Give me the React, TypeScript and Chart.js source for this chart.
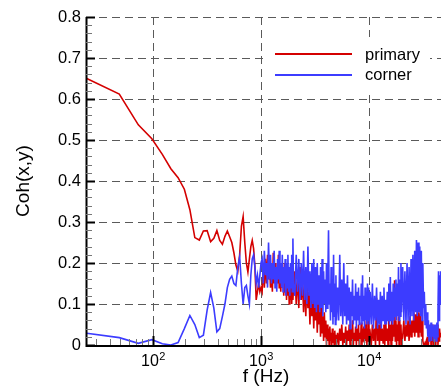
import React, { useEffect, useRef } from "react";
import { Chart, registerables } from "chart.js";

Chart.register(...registerables);

// ---- data (frequency in Hz, coherence) ----
const freqA = [24.4, 48.8, 73.2, 97.7, 122.1, 146.5, 170.9, 195.3, 219.7, 244.1, 268.6, 293, 317.4, 341.8, 366.2, 390.6, 415, 439.5, 463.9, 488.3, 512.7, 537.1, 561.5, 586, 610.4, 634.8, 659.2, 683.6, 708, 732.4, 756.8, 781.3, 805.7, 830, 854.5, 879, 903.3, 927.7, 952, 976.6, 1001];
const primaryA = [0.65, 0.612, 0.537, 0.503, 0.465, 0.43, 0.408, 0.38, 0.33, 0.262, 0.256, 0.278, 0.279, 0.252, 0.26, 0.279, 0.255, 0.246, 0.265, 0.278, 0.264, 0.25, 0.225, 0.195, 0.18, 0.22, 0.29, 0.313, 0.25, 0.2, 0.178, 0.21, 0.24, 0.255, 0.235, 0.19, 0.11, 0.13, 0.15, 0.13, 0.14];
const cornerA = [0.0285, 0.018, 0.004, 0.013, 0.003, 0.0, 0.006, 0.04, 0.072, 0.05, 0.018, 0.024, 0.085, 0.128, 0.09, 0.032, 0.04, 0.07, 0.1, 0.14, 0.16, 0.168, 0.15, 0.145, 0.19, 0.215, 0.15, 0.1, 0.14, 0.145, 0.12, 0.1, 0.17, 0.21, 0.22, 0.19, 0.15, 0.17, 0.14, 0.17, 0.2];

const freqB = [1025, 1050, 1075, 1100, 1125, 1150, 1175, 1200, 1225, 1250, 1275, 1300, 1325, 1350, 1375, 1400, 1425, 1450, 1475, 1500, 1525, 1550, 1575, 1600, 1625, 1650, 1675, 1700, 1725, 1750, 1775, 1800, 1825, 1850, 1875, 1900, 1925, 1950, 1975, 2000];
const primaryB = [0.13, 0.19, 0.14, 0.21, 0.15, 0.22, 0.16, 0.2, 0.14, 0.18, 0.13, 0.225, 0.15, 0.2, 0.14, 0.19, 0.15, 0.22, 0.14, 0.19, 0.13, 0.2, 0.14, 0.18, 0.12, 0.2, 0.13, 0.17, 0.11, 0.19, 0.12, 0.16, 0.1, 0.17, 0.11, 0.16, 0.1, 0.15, 0.11, 0.14];
const cornerB = [0.21, 0.15, 0.23, 0.17, 0.2, 0.14, 0.25, 0.16, 0.22, 0.15, 0.2, 0.16, 0.23, 0.14, 0.19, 0.13, 0.21, 0.16, 0.23, 0.15, 0.2, 0.14, 0.22, 0.13, 0.19, 0.15, 0.21, 0.12, 0.2, 0.14, 0.22, 0.13, 0.19, 0.12, 0.2, 0.14, 0.22, 0.13, 0.26, 0.15];

const freqC = [2060, 2120, 2180, 2240, 2300, 2360, 2420, 2480, 2540, 2600, 2660, 2720, 2780, 2840, 2900, 2960, 3020, 3080, 3140, 3200, 3260, 3320, 3380, 3440, 3500, 3560, 3620, 3680, 3740, 3800, 3860, 3920, 3980, 4040, 4100, 4160, 4220, 4280, 4340, 4400, 4460, 4520, 4580, 4640, 4700, 4760, 4820, 4880, 4940, 5000];
const primaryC = [0.18, 0.1, 0.17, 0.09, 0.19, 0.11, 0.16, 0.08, 0.15, 0.07, 0.16, 0.09, 0.13, 0.05, 0.14, 0.07, 0.12, 0.04, 0.13, 0.06, 0.11, 0.03, 0.1, 0.05, 0.09, 0.02, 0.1, 0.03, 0.07, 0.01, 0.08, 0.02, 0.06, 0.0, 0.05, 0.01, 0.04, 0.0, 0.045, 0.01, 0.03, 0.0, 0.04, 0.005, 0.03, 0.0, 0.035, 0.01, 0.025, 0.0];
const cornerC = [0.12, 0.22, 0.13, 0.21, 0.11, 0.2, 0.12, 0.23, 0.11, 0.19, 0.1, 0.24, 0.12, 0.18, 0.09, 0.2, 0.1, 0.21, 0.09, 0.19, 0.08, 0.2, 0.1, 0.17, 0.08, 0.19, 0.09, 0.21, 0.07, 0.18, 0.1, 0.16, 0.08, 0.2, 0.09, 0.17, 0.28, 0.1, 0.15, 0.06, 0.19, 0.08, 0.16, 0.05, 0.22, 0.07, 0.15, 0.05, 0.17, 0.06];

const freqD = [5120, 5240, 5360, 5480, 5600, 5720, 5840, 5960, 6080, 6200, 6320, 6440, 6560, 6680, 6800, 6920, 7040, 7160, 7280, 7400, 7520, 7640, 7760, 7880, 8000, 8120, 8240, 8360, 8480, 8600, 8720, 8840, 8960, 9080, 9200, 9320, 9440, 9560, 9680, 9800, 9920, 10040];
const primaryD = [0.03, 0.0, 0.04, 0.01, 0.05, 0.0, 0.03, 0.005, 0.045, 0.0, 0.035, 0.01, 0.05, 0.0, 0.04, 0.01, 0.06, 0.0, 0.03, 0.01, 0.045, 0.0, 0.04, 0.01, 0.05, 0.0, 0.03, 0.015, 0.055, 0.0, 0.04, 0.01, 0.045, 0.005, 0.05, 0.01, 0.06, 0.0, 0.04, 0.01, 0.09, 0.02];
const cornerD = [0.14, 0.06, 0.22, 0.07, 0.16, 0.05, 0.2, 0.07, 0.15, 0.05, 0.17, 0.06, 0.14, 0.04, 0.13, 0.07, 0.16, 0.05, 0.12, 0.06, 0.15, 0.04, 0.13, 0.06, 0.14, 0.05, 0.12, 0.07, 0.15, 0.05, 0.17, 0.06, 0.12, 0.04, 0.14, 0.06, 0.13, 0.05, 0.15, 0.06, 0.14, 0.05];

const freqE = [10250, 10500, 10750, 11000, 11250, 11500, 11750, 12000, 12250, 12500, 12750, 13000, 13250, 13500, 13750, 14000, 14250, 14500, 14750, 15000, 15250, 15500, 15750, 16000, 16250, 16500, 16750, 17000, 17250, 17500, 17750, 18000, 18250, 18500, 18750, 19000, 19250, 19500, 19750, 20000];
const primaryE = [0.03, 0.0, 0.05, 0.01, 0.04, 0.0, 0.115, 0.01, 0.05, 0.0, 0.06, 0.01, 0.04, 0.005, 0.05, 0.0, 0.07, 0.01, 0.04, 0.0, 0.06, 0.01, 0.05, 0.0, 0.07, 0.01, 0.05, 0.02, 0.158, 0.01, 0.06, 0.0, 0.05, 0.01, 0.07, 0.0, 0.06, 0.02, 0.05, 0.0];
const cornerE = [0.13, 0.05, 0.15, 0.04, 0.12, 0.06, 0.14, 0.04, 0.11, 0.05, 0.13, 0.04, 0.12, 0.06, 0.14, 0.05, 0.11, 0.05, 0.13, 0.06, 0.15, 0.05, 0.166, 0.06, 0.13, 0.05, 0.15, 0.06, 0.14, 0.07, 0.16, 0.06, 0.15, 0.07, 0.19, 0.06, 0.16, 0.07, 0.2, 0.08];

const freqF = [20500, 21000, 21500, 22000, 22500, 23000, 23500, 24000, 24500, 25000, 25500, 26000, 26500, 27000, 27500, 28000, 28500, 29000, 29500, 30000, 30500, 31000, 31500, 32000, 32500, 33000, 33500, 34000, 34500, 35000, 35500, 36000, 36500, 37000, 37500, 38000, 38500, 39000, 39500, 40000, 40500, 41000, 41500, 42000, 42500, 43000, 43500, 44000, 44500, 45000, 45500, 46000, 46500];
const primaryF = [0.02, 0.06, 0.01, 0.05, 0.02, 0.06, 0.01, 0.07, 0.02, 0.06, 0.03, 0.08, 0.02, 0.075, 0.03, 0.085, 0.02, 0.08, 0.03, 0.075, 0.02, 0.06, 0.01, 0.0, 0.0, 0.005, 0.0, 0.01, 0.0, 0.02, 0.0, 0.04, 0.01, 0.045, 0.0, 0.03, 0.01, 0.05, 0.0, 0.04, 0.01, 0.045, 0.0, 0.035, 0.01, 0.05, 0.0, 0.03, 0.01, 0.04, 0.02, 0.03, 0.02];
const cornerF = [0.19, 0.06, 0.18, 0.05, 0.2, 0.06, 0.19, 0.05, 0.21, 0.07, 0.22, 0.06, 0.23, 0.08, 0.256, 0.07, 0.25, 0.08, 0.24, 0.07, 0.23, 0.06, 0.2, 0.09, 0.13, 0.05, 0.1, 0.04, 0.08, 0.02, 0.06, 0.01, 0.05, 0.02, 0.055, 0.01, 0.05, 0.02, 0.045, 0.01, 0.05, 0.015, 0.05, 0.01, 0.055, 0.02, 0.08, 0.18, 0.06, 0.17, 0.1, 0.18, 0.15];

const yTickValues = [0, 0.1, 0.2, 0.3, 0.4, 0.5, 0.6, 0.7, 0.8];
const xDecades = [100, 1000, 10000];
const xDecadeExponents = ["2", "3", "4"];
const xMinorTicks = [30, 40, 50, 60, 70, 80, 90, 200, 300, 400, 500, 600, 700, 800, 900, 2000, 3000, 4000, 5000, 6000, 7000, 8000, 9000, 20000, 30000, 40000];
const seriesNames = ["primary", "corner"];

const FONT = "'Liberation Sans', Arial, Helvetica, sans-serif";
const RED = "#d40000";
const BLUE = "#3c3cff";

const freqAll = [...freqA, ...freqB, ...freqC, ...freqD, ...freqE, ...freqF];
const primaryAll = [...primaryA, ...primaryB, ...primaryC, ...primaryD, ...primaryE, ...primaryF];
const cornerAll = [...cornerA, ...cornerB, ...cornerC, ...cornerD, ...cornerE, ...cornerF];

const decorPlugin = {
  id: "decor",
  beforeDatasetsDraw(chart: any) {
    const { ctx, chartArea: a, scales } = chart;
    const x = scales.x, y = scales.y;
    ctx.save();
    ctx.beginPath();
    ctx.rect(a.left, a.top - 1, a.right - a.left, a.bottom - a.top + 1);
    ctx.clip();
    ctx.strokeStyle = "#5a5a5a";
    ctx.lineWidth = 1;
    ctx.setLineDash([8, 5]);
    for (const v of yTickValues) {
      if (v === 0) continue;
      const py = Math.round(y.getPixelForValue(v)) + 0.5;
      ctx.beginPath();
      ctx.moveTo(a.left, py);
      ctx.lineTo(a.right, py);
      ctx.stroke();
    }
    for (const f of xDecades) {
      const px = Math.round(x.getPixelForValue(f)) + 0.5;
      ctx.beginPath();
      ctx.moveTo(px, a.top);
      ctx.lineTo(px, a.bottom);
      ctx.stroke();
    }
    ctx.restore();
  },
  afterDatasetsDraw(chart: any) {
    const { ctx, chartArea: a, scales } = chart;
    const x = scales.x, y = scales.y;
    ctx.save();
    // legend box
    ctx.fillStyle = "#ffffff";
    ctx.fillRect(263, 37, 167, 55);
    ctx.lineWidth = 2;
    ctx.strokeStyle = RED;
    ctx.beginPath(); ctx.moveTo(275, 54); ctx.lineTo(352, 54); ctx.stroke();
    ctx.strokeStyle = BLUE;
    ctx.beginPath(); ctx.moveTo(275, 75); ctx.lineTo(352, 75); ctx.stroke();
    ctx.fillStyle = "#000";
    ctx.font = `16.5px ${FONT}`;
    ctx.textAlign = "left";
    ctx.textBaseline = "alphabetic";
    ctx.fillText(seriesNames[0], 365, 60);
    ctx.fillText(seriesNames[1], 365, 80);

    // axes lines
    ctx.strokeStyle = "#000";
    ctx.lineWidth = 2;
    ctx.beginPath();
    ctx.moveTo(a.left + 0.5, a.top);
    ctx.lineTo(a.left + 0.5, a.bottom + 1);
    ctx.lineTo(a.right, a.bottom + 1);
    ctx.stroke();

    // y ticks
    for (const v of yTickValues) {
      const py = Math.round(y.getPixelForValue(v)) + 0.5;
      ctx.strokeStyle = "#000";
      ctx.lineWidth = 2;
      ctx.beginPath(); ctx.moveTo(a.left, py); ctx.lineTo(a.left + 9, py); ctx.stroke();
    }
    for (let i = 0; i < yTickValues.length - 1; i++) {
      for (let k = 1; k < 5; k++) {
        const v = yTickValues[i] + (yTickValues[i + 1] - yTickValues[i]) * k / 5;
        const py = Math.round(y.getPixelForValue(v)) + 0.5;
        ctx.strokeStyle = "#777";
        ctx.lineWidth = 1;
        ctx.beginPath(); ctx.moveTo(a.left, py); ctx.lineTo(a.left + 6, py); ctx.stroke();
      }
    }
    // x ticks
    for (const f of xDecades) {
      const px = Math.round(x.getPixelForValue(f)) + 0.5;
      ctx.strokeStyle = "#000";
      ctx.lineWidth = 2;
      ctx.beginPath(); ctx.moveTo(px, a.bottom); ctx.lineTo(px, a.bottom - 9); ctx.stroke();
    }
    for (const f of xMinorTicks) {
      const px = Math.round(x.getPixelForValue(f)) + 0.5;
      ctx.strokeStyle = "#777";
      ctx.lineWidth = 1;
      ctx.beginPath(); ctx.moveTo(px, a.bottom); ctx.lineTo(px, a.bottom - 6); ctx.stroke();
    }
    // x tick labels 10^n
    ctx.fillStyle = "#000";
    xDecades.forEach((f, i) => {
      const px = x.getPixelForValue(f);
      ctx.font = `16px ${FONT}`;
      const wb = ctx.measureText("10").width;
      ctx.font = `11px ${FONT}`;
      const we = ctx.measureText(xDecadeExponents[i]).width;
      const start = px - (wb + we) / 2;
      ctx.font = `16px ${FONT}`;
      ctx.textAlign = "left";
      ctx.fillText("10", start, a.bottom + 21);
      ctx.font = `11px ${FONT}`;
      ctx.fillText(xDecadeExponents[i], start + wb + 0.5, a.bottom + 14.5);
    });
    // titles
    ctx.font = `19px ${FONT}`;
    ctx.textAlign = "center";
    ctx.fillText("f (Hz)", 266, 381.5);
    ctx.translate(24, (a.top + a.bottom) / 2);
    ctx.rotate(-Math.PI / 2);
    ctx.textBaseline = "middle";
    ctx.fillText("Coh(x,y)", 0, 0);
    ctx.restore();
  },
};

export default function App() {
  const ref = useRef<HTMLCanvasElement | null>(null);
  useEffect(() => {
    if (!ref.current) return;
    const chart = new Chart(ref.current, {
      type: "line",
      data: {
        datasets: [
          {
            label: seriesNames[0],
            data: freqAll.map((f, i) => ({ x: f, y: primaryAll[i] })),
            borderColor: RED,
            borderWidth: 1.6,
            pointRadius: 0,
            tension: 0,
            fill: false,
            order: 2,
          },
          {
            label: seriesNames[1],
            data: freqAll.map((f, i) => ({ x: f, y: cornerAll[i] })),
            borderColor: BLUE,
            borderWidth: 1.6,
            pointRadius: 0,
            tension: 0,
            fill: false,
            order: 1,
          },
        ],
      },
      options: {
        animation: false,
        responsive: false,
        devicePixelRatio: 1,
        layout: { padding: { top: 17, left: 0, right: 0, bottom: 0 } },
        plugins: { legend: { display: false }, tooltip: { enabled: false } },
        events: [],
        scales: {
          x: {
            type: "logarithmic",
            min: 24,
            max: 46400,
            grid: { display: false, drawTicks: false },
            border: { display: false },
            ticks: { display: false },
            afterFit: (s: any) => { s.height = 47; },
          },
          y: {
            type: "linear",
            min: 0,
            max: 0.8,
            grid: { display: false, drawTicks: false },
            border: { display: false },
            ticks: {
              stepSize: 0.1,
              padding: 5,
              color: "#000",
              font: { family: FONT, size: 16.5 },
              callback: (v: any) => String(Math.round(Number(v) * 10) / 10),
            },
            afterFit: (s: any) => { s.width = 86; },
          },
        },
      },
      plugins: [decorPlugin],
    } as any);
    return () => chart.destroy();
  }, []);
  return (
    <div style={{ position: "fixed", left: 0, top: 0, width: 441, height: 392, background: "#fff" }}>
      <canvas ref={ref} width={441} height={392} style={{ display: "block" }} />
    </div>
  );
}
